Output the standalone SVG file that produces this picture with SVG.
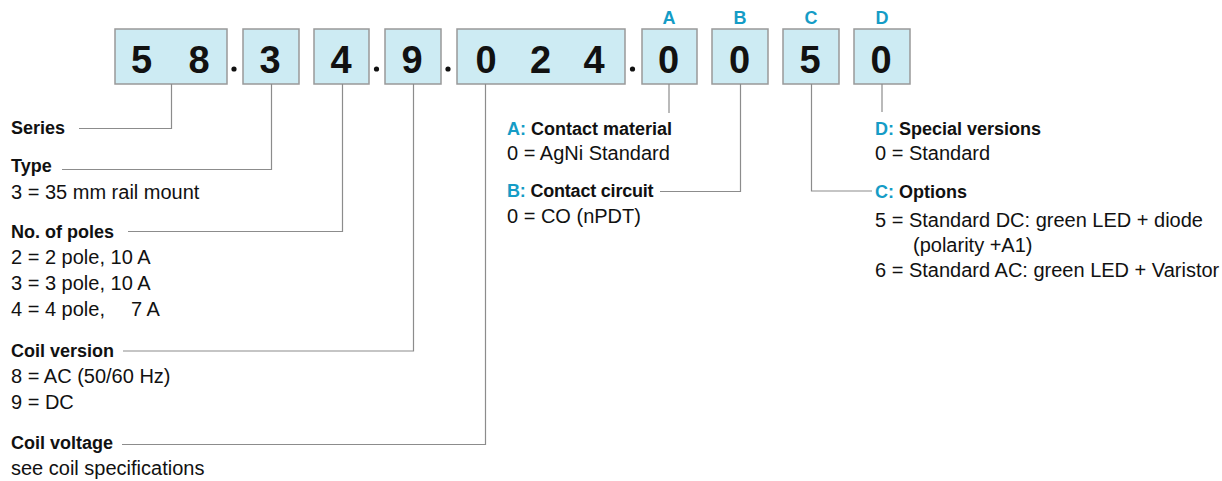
<svg xmlns="http://www.w3.org/2000/svg" width="1222" height="481" viewBox="0 0 1222 481">
<style>
.box{fill:#cdebf3;stroke:#999;stroke-width:1.5}
.dig{font-family:"Liberation Sans",Arial,sans-serif;font-weight:bold;font-size:38px;fill:#111;text-anchor:middle}
.let{font-family:"Liberation Sans",Arial,sans-serif;font-weight:bold;font-size:18px;fill:#159cc6;text-anchor:middle}
.h{font-family:"Liberation Sans",Arial,sans-serif;font-weight:bold;font-size:18px;fill:#111}
.b{font-family:"Liberation Sans",Arial,sans-serif;font-size:20px;fill:#111}
.c{fill:#159cc6}
.dot{fill:#111}
.con{fill:none;stroke:#8c8c8c;stroke-width:1.2}
</style>
<rect width="1222" height="481" fill="#fff"/>
<g id="code">
<g id="box-series"><rect class="box" x="115" y="29" width="112" height="55"/><text class="dig" x="141.5" y="73">5</text><text class="dig" x="199" y="73">8</text></g>
<circle class="dot" cx="234" cy="69" r="2.6"/>
<g id="box-type"><rect class="box" x="243" y="29" width="56" height="55"/><text class="dig" x="270" y="73">3</text></g>
<g id="box-poles"><rect class="box" x="314" y="29" width="55" height="55"/><text class="dig" x="341" y="73">4</text></g>
<circle class="dot" cx="376.5" cy="69" r="2.6"/>
<g id="box-coilversion"><rect class="box" x="385" y="29" width="56" height="55"/><text class="dig" x="412" y="73">9</text></g>
<circle class="dot" cx="448" cy="69" r="2.6"/>
<g id="box-coilvoltage"><rect class="box" x="457" y="29" width="168" height="55"/><text class="dig" x="486" y="73">0</text><text class="dig" x="540.5" y="73">2</text><text class="dig" x="594" y="73">4</text></g>
<circle class="dot" cx="632.5" cy="69" r="2.6"/>
<g id="box-A"><rect class="box" x="642" y="29" width="55" height="55"/><text class="dig" x="668.5" y="73">0</text><text class="let" x="669" y="24">A</text></g>
<g id="box-B"><rect class="box" x="712" y="29" width="56" height="55"/><text class="dig" x="739.5" y="73">0</text><text class="let" x="740" y="24">B</text></g>
<g id="box-C"><rect class="box" x="783" y="29" width="56" height="55"/><text class="dig" x="810" y="73">5</text><text class="let" x="811" y="24">C</text></g>
<g id="box-D"><rect class="box" x="854" y="29" width="56" height="55"/><text class="dig" x="881" y="73">0</text><text class="let" x="882" y="24">D</text></g>
</g>
<g id="connectors">
<path class="con" d="M171.5 84V128.5H79"/>
<path class="con" d="M271.5 84V169.5H62"/>
<path class="con" d="M342.5 84V231.5H128"/>
<path class="con" d="M413.5 84V351H123"/>
<path class="con" d="M485.5 84V444.5H122"/>
<path class="con" d="M669 84V113"/>
<path class="con" d="M740.5 84V191.5H660"/>
<path class="con" d="M811.5 84V191H872"/>
<path class="con" d="M882 84V112"/>
</g>
<g id="label-series"><text class="h" x="11" y="133.5">Series</text></g>
<g id="label-type"><text class="h" x="11" y="172">Type</text><text class="b" x="11" y="198.5">3 = 35 mm rail mount</text></g>
<g id="label-poles"><text class="h" x="11" y="237.5">No. of poles</text><text class="b" x="11" y="264">2 = 2 pole, 10 A</text><text class="b" x="11" y="290">3 = 3 pole, 10 A</text><text class="b" x="11" y="316">4 = 4 pole,<tspan x="131">7 A</tspan></text></g>
<g id="label-coilversion"><text class="h" x="11" y="356.5">Coil version</text><text class="b" x="11" y="383">8 = AC (50/60 Hz)</text><text class="b" x="11" y="409">9 = DC</text></g>
<g id="label-coilvoltage"><text class="h" x="11" y="449">Coil voltage</text><text class="b" x="11" y="475">see coil specifications</text></g>
<g id="label-A"><text class="h" x="507" y="134.5"><tspan class="c">A:</tspan> Contact material</text><text class="b" x="507" y="160">0 = AgNi Standard</text></g>
<g id="label-B"><text class="h" x="507" y="197" letter-spacing="-0.2"><tspan class="c">B:</tspan> Contact circuit</text><text class="b" x="507" y="222.5">0 = CO (nPDT)</text></g>
<g id="label-D"><text class="h" x="875" y="134.5"><tspan class="c">D:</tspan> Special versions</text><text class="b" x="875" y="160">0 = Standard</text></g>
<g id="label-C"><text class="h" x="875" y="198"><tspan class="c">C:</tspan> Options</text><text class="b" x="875" y="226.5">5 = Standard DC: green LED + diode</text><text class="b" x="913" y="251.5">(polarity +A1)</text><text class="b" x="875" y="276.5">6 = Standard AC: green LED + Varistor</text></g>
</svg>
